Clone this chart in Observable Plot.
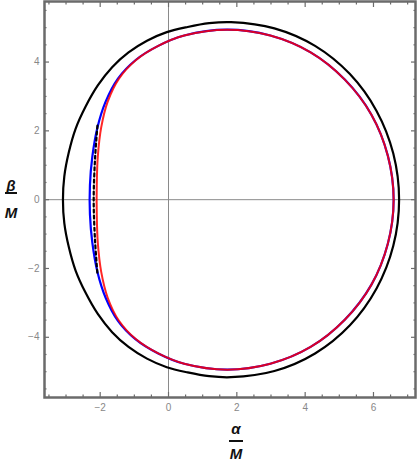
<!DOCTYPE html>
<html><head><meta charset="utf-8">
<script src="https://cdn.jsdelivr.net/npm/d3@7"></script>
<script src="https://cdn.jsdelivr.net/npm/@observablehq/plot@0.6"></script>
<style>
body{margin:0;background:#fff}
#wrap{position:relative;width:419px;height:463px}
.lab{position:absolute;width:20px;text-align:center;font:bold italic 15px/16px "Liberation Sans",Arial,sans-serif;color:#111}
.bar{position:absolute;height:2px;background:#111}
</style></head>
<body>
<div id="wrap">
  <div id="chart"></div>
  <div class="lab" style="left:226px;top:421px">α</div>
  <div class="bar" style="left:229px;top:440px;width:14px"></div>
  <div class="lab" style="left:226px;top:446px">M</div>
  <div class="lab" style="left:1px;top:178px">β</div>
  <div class="bar" style="left:5px;top:192px;width:12px"></div>
  <div class="lab" style="left:1px;top:205px">M</div>
</div>
<script>
// Outer black contour (α/M, β/M)
const blackCurve = [
  [6.75,0],[6.58,1.34],[6.09,2.58],[5.31,3.65],[4.29,4.47],[3.10,4.98],[1.83,5.16],
  [1.19,5.13],[0.56,5.02],[-0.05,4.87],[-0.63,4.62],[-1.17,4.28],[-1.65,3.85],[-2.07,3.32],
  [-2.43,2.70],[-2.72,2.06],[-2.92,1.37],[-3.05,0.68],[-3.09,0],
  [-3.05,-0.68],[-2.92,-1.37],[-2.72,-2.06],[-2.43,-2.70],[-2.07,-3.32],[-1.65,-3.85],
  [-1.17,-4.28],[-0.63,-4.62],[-0.05,-4.87],[0.56,-5.02],[1.19,-5.13],[1.83,-5.16],
  [3.10,-4.98],[4.29,-4.47],[5.31,-3.65],[6.09,-2.58],[6.58,-1.34]
];
// Blue contour
const blueCurve = [
  [6.59,0],[6.42,1.28],[5.94,2.47],[5.16,3.49],[4.16,4.28],[2.98,4.77],[1.72,4.94],
  [0.46,4.77],[-0.30,4.47],[-0.96,4.06],[-1.48,3.52],[-1.84,2.85],[-2.08,2.10],
  [-2.23,1.25],[-2.30,0.42],
  [-2.30,-0.42],[-2.23,-1.25],[-2.08,-2.10],[-1.84,-2.85],[-1.48,-3.52],[-0.96,-4.06],
  [-0.30,-4.47],[0.46,-4.77],[1.72,-4.94],[2.98,-4.77],[4.16,-4.28],
  [5.16,-3.49],[5.94,-2.47],[6.42,-1.28]
];
// Red contour
const redCurve = [
  [6.59,0],[6.42,1.28],[5.94,2.47],[5.16,3.49],[4.16,4.28],[2.98,4.77],[1.72,4.94],
  [0.46,4.77],[-0.30,4.47],[-0.95,4.06],[-1.45,3.52],[-1.78,2.85],[-1.97,2.10],
  [-2.07,1.25],[-2.10,0.42],
  [-2.10,-0.42],[-2.07,-1.25],[-1.97,-2.10],[-1.78,-2.85],[-1.45,-3.52],[-0.95,-4.06],
  [-0.30,-4.47],[0.46,-4.77],[1.72,-4.94],[2.98,-4.77],[4.16,-4.28],
  [5.16,-3.49],[5.94,-2.47],[6.42,-1.28]
];
// Dashed segment
const dashedCurve = [[-2.08,2.15],[-2.15,1.2],[-2.19,0],[-2.15,-1.2],[-2.08,-2.15]];

const xMajor = [-2,0,2,4,6];
const yMajor = [-4,-2,0,2,4];
const xMinor = [-3.5,-3,-2.5,-1.5,-1,-0.5,0.5,1,1.5,2.5,3,3.5,4.5,5,5.5,6.5,7];
const yMinor = [-5.5,-5,-4.5,-3.5,-3,-2.5,-1.5,-1,-0.5,0.5,1,1.5,2.5,3,3.5,4.5,5,5.5];

const frameGray = "#6b6b6b";
const pos = {x: d => d[0], y: d => d[1]};
const tickAxes = [];
for (const anchor of ["bottom","top"]) {
  tickAxes.push(Plot.axisX(xMajor, {anchor, tickSize:-5, fill:"none", stroke:frameGray, strokeWidth:1.2, label:null}));
  tickAxes.push(Plot.axisX(xMinor, {anchor, tickSize:-2.5, fill:"none", stroke:frameGray, strokeWidth:1.2, label:null}));
}
for (const anchor of ["left","right"]) {
  tickAxes.push(Plot.axisY(yMajor, {anchor, tickSize:-5, fill:"none", stroke:frameGray, strokeWidth:1.2, label:null}));
  tickAxes.push(Plot.axisY(yMinor, {anchor, tickSize:-2.5, fill:"none", stroke:frameGray, strokeWidth:1.2, label:null}));
}

const chart = Plot.plot({
  width: 419, height: 463,
  marginLeft: 44, marginRight: 4, marginTop: 1, marginBottom: 66,
  x: {domain: [-3.63, 7.23]},
  y: {domain: [-5.75, 5.76]},
  style: {fontFamily: "Liberation Sans, Arial, sans-serif", fontSize: "10px", background: "#fff"},
  marks: [
    Plot.ruleX([0], {stroke: "#8a8a8a", strokeWidth: 1}),
    Plot.ruleY([0], {stroke: "#8a8a8a", strokeWidth: 1}),
    Plot.line(blackCurve, {...pos, curve: "catmull-rom-closed", stroke: "#000", strokeWidth: 2.2}),
    Plot.line(blueCurve, {...pos, curve: "catmull-rom-closed", stroke: "#0000ff", strokeWidth: 2.2}),
    Plot.line(redCurve, {...pos, curve: "catmull-rom-closed", stroke: "#ff0000", strokeOpacity: 0.85, strokeWidth: 2}),
    Plot.line(dashedCurve, {...pos, curve: "catmull-rom", stroke: "#000", strokeWidth: 2.2, strokeDasharray: "3,3"}),
    Plot.frame({stroke: frameGray, strokeWidth: 2.5}),
    ...tickAxes,
    Plot.axisX(xMajor, {anchor: "bottom", tickSize: 0, tickPadding: 6, fill: "#888", label: null}),
    Plot.axisY(yMajor, {anchor: "left", tickSize: 0, tickPadding: 5, fill: "#888", label: null})
  ]
});
document.getElementById("chart").appendChild(chart);
</script>
</body></html>
